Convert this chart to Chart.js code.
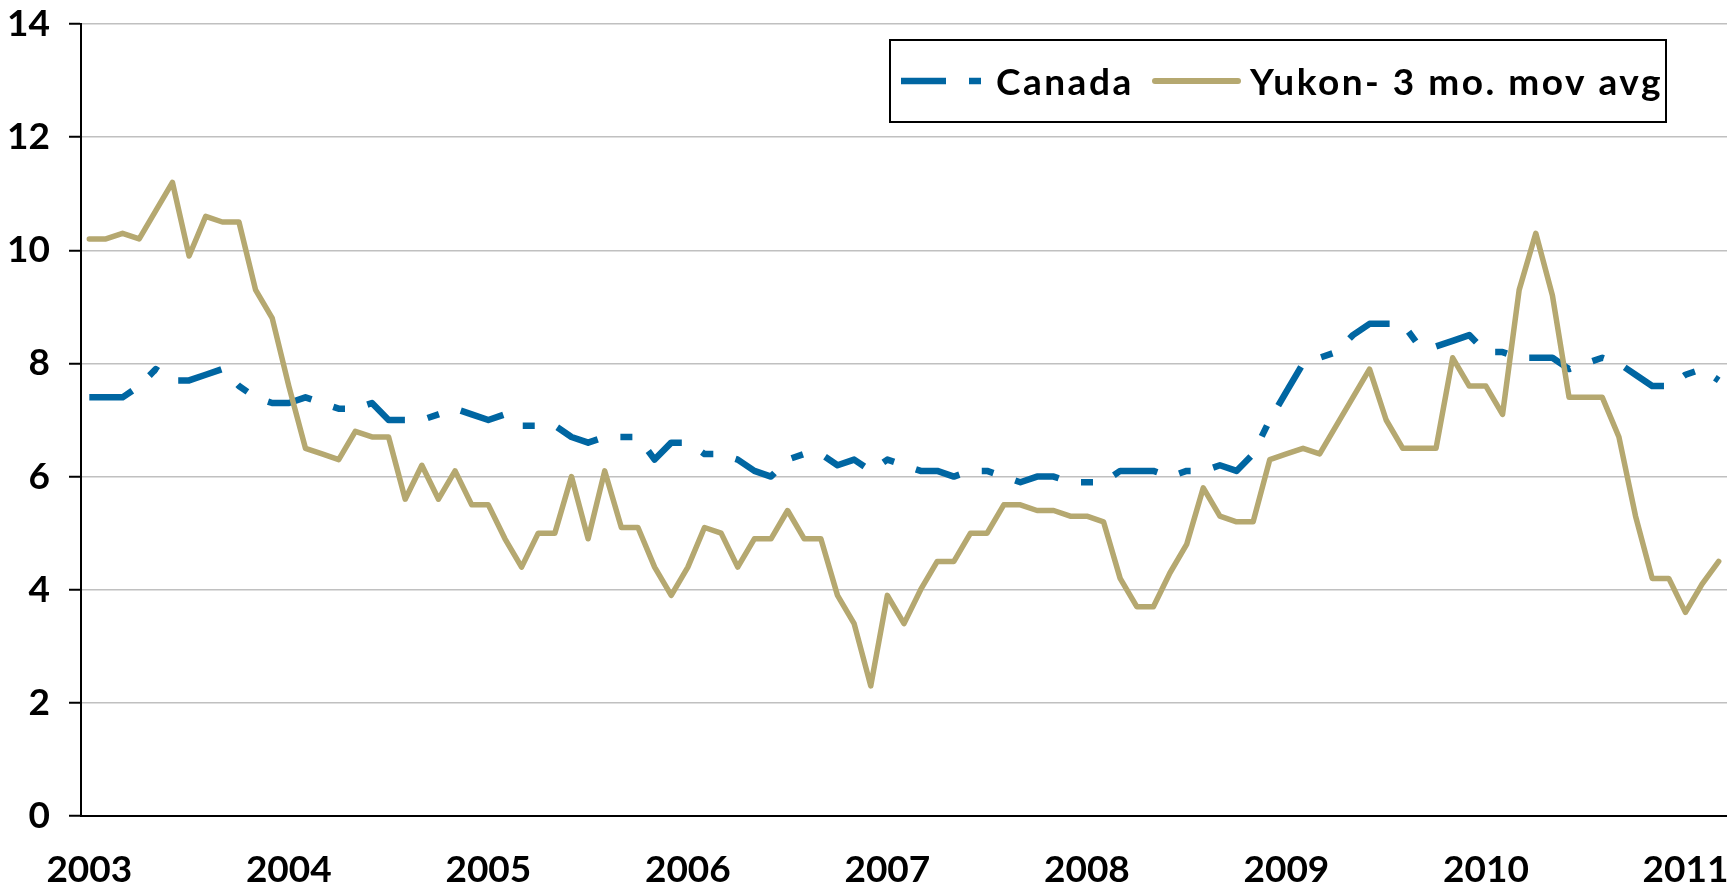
<!DOCTYPE html>
<html>
<head>
<meta charset="utf-8">
<script src="https://cdn.jsdelivr.net/npm/chart.js@4.4.1/dist/chart.umd.min.js"></script>
<style>
  html, body { margin: 0; padding: 0; background: #fff; }
  #wrap { width: 1727px; height: 892px; position: relative; }
</style>
</head>
<body>
<div id="wrap"><canvas id="chart"></canvas></div>
<script>
// Years shown under the axis, one tick per January
const years = ['2003', '2004', '2005', '2006', '2007', '2008', '2009', '2010', '2011'];
const monthCount = 99; // Jan 2003 .. Mar 2011

// Unemployment rate (%), monthly
const canada = [
  7.4, 7.4, 7.4, 7.6, 7.9, 7.7, 7.7, 7.8, 7.9, 7.6, 7.4, 7.3,
  7.3, 7.4, 7.3, 7.2, 7.2, 7.3, 7.0, 7.0, 7.0, 7.1, 7.2, 7.1,
  7.0, 7.1, 6.9, 6.9, 6.9, 6.7, 6.6, 6.7, 6.7, 6.7, 6.3, 6.6,
  6.6, 6.4, 6.4, 6.3, 6.1, 6.0, 6.3, 6.4, 6.4, 6.2, 6.3, 6.1,
  6.3, 6.2, 6.1, 6.1, 6.0, 6.1, 6.1, 6.0, 5.9, 6.0, 6.0, 5.9,
  5.9, 5.9, 6.1, 6.1, 6.1, 6.0, 6.1, 6.1, 6.2, 6.1, 6.4, 7.0,
  7.5, 8.0, 8.1, 8.2, 8.5, 8.7, 8.7, 8.7, 8.3, 8.3, 8.4, 8.5,
  8.2, 8.2, 8.1, 8.1, 8.1, 7.9, 8.0, 8.1, 8.0, 7.8, 7.6, 7.6,
  7.8, 7.9, 7.7
];
const yukon = [
  10.2, 10.2, 10.3, 10.2, 10.7, 11.2, 9.9, 10.6, 10.5, 10.5, 9.3, 8.8,
  7.6, 6.5, 6.4, 6.3, 6.8, 6.7, 6.7, 5.6, 6.2, 5.6, 6.1, 5.5,
  5.5, 4.9, 4.4, 5.0, 5.0, 6.0, 4.9, 6.1, 5.1, 5.1, 4.4, 3.9,
  4.4, 5.1, 5.0, 4.4, 4.9, 4.9, 5.4, 4.9, 4.9, 3.9, 3.4, 2.3,
  3.9, 3.4, 4.0, 4.5, 4.5, 5.0, 5.0, 5.5, 5.5, 5.4, 5.4, 5.3,
  5.3, 5.2, 4.2, 3.7, 3.7, 4.3, 4.8, 5.8, 5.3, 5.2, 5.2, 6.3,
  6.4, 6.5, 6.4, 6.9, 7.4, 7.9, 7.0, 6.5, 6.5, 6.5, 8.1, 7.6,
  7.6, 7.1, 9.3, 10.3, 9.2, 7.4, 7.4, 7.4, 6.7, 5.3, 4.2, 4.2,
  3.6, 4.1, 4.5
];

const FONT = 'Lato, "Liberation Sans", Arial, sans-serif';

// month labels built from the year list
let labels = [];
for (let i = 0; i < monthCount; i++) {
  labels.push(years[Math.floor(i / 12)] + '-' + String(i % 12 + 1).padStart(2, '0'));
}

// legend drawn inside the plot, with a black frame like the original
const legendBox = {
  id: 'legendBox',
  afterDraw(chart) {
    const ctx = chart.ctx;
    const area = chart.chartArea;
    const x = area.right - 837, y = area.top + 16, w = 776, h = 82;
    const cy = y + h / 2;
    const can = chart.data.datasets[0];
    const yuk = chart.data.datasets[1];

    ctx.save();
    ctx.fillStyle = '#fff';
    ctx.fillRect(x, y, w, h);
    ctx.lineWidth = 2;
    ctx.strokeStyle = '#000';
    ctx.strokeRect(x, y, w, h);

    // Canada sample
    ctx.strokeStyle = can.borderColor;
    ctx.lineWidth = can.borderWidth;
    ctx.lineCap = 'butt';
    ctx.setLineDash(can.borderDash);
    ctx.beginPath();
    ctx.moveTo(x + 11, cy);
    ctx.lineTo(x + 93, cy);
    ctx.stroke();

    // Yukon sample
    ctx.setLineDash([]);
    ctx.strokeStyle = yuk.borderColor;
    ctx.lineWidth = 6;
    ctx.lineCap = 'round';
    ctx.beginPath();
    ctx.moveTo(x + 265, cy);
    ctx.lineTo(x + 348, cy);
    ctx.stroke();

    ctx.fillStyle = '#000';
    ctx.font = 'bold 37px ' + FONT;
    ctx.letterSpacing = '2.5px';
    ctx.textBaseline = 'middle';
    ctx.textAlign = 'left';
    ctx.fillText(can.label, x + 106, cy + 2);
    ctx.fillText(yuk.label, x + 360, cy + 2);
    ctx.restore();
  }
};

let ctx = document.getElementById('chart').getContext('2d');
let chart = new Chart(ctx, {
  type: 'line',
  data: {
    labels: labels,
    datasets: [
      {
        label: 'Canada',
        data: canada,
        borderColor: '#0066A2',
        borderWidth: 6.5,
        borderDash: [45, 23, 12, 23],
        borderCapStyle: 'butt',
        borderJoinStyle: 'round',
        pointRadius: 0,
        tension: 0,
        fill: false,
        order: 1
      },
      {
        label: 'Yukon- 3 mo. mov avg',
        data: yukon,
        borderColor: '#B5A870',
        borderWidth: 5.5,
        borderCapStyle: 'round',
        borderJoinStyle: 'round',
        pointRadius: 0,
        tension: 0,
        fill: false,
        order: 0
      }
    ]
  },
  options: {
    responsive: true,
    maintainAspectRatio: false,
    animation: false,
    devicePixelRatio: 1,
    layout: { padding: { top: 24, right: 0, left: 0, bottom: 0 } },
    plugins: {
      legend: { display: false },
      tooltip: { enabled: false }
    },
    scales: {
      x: {
        type: 'category',
        offset: true,
        grid: { display: false, drawTicks: false },
        border: { display: true, color: '#000', width: 2 },
        ticks: {
          autoSkip: false,
          maxRotation: 0,
          padding: 32,
          color: '#000',
          font: { family: FONT, size: 37, weight: 'bold' },
          callback: function (value, index) {
            return index % 12 === 0 ? years[index / 12] : '';
          }
        },
        afterFit: function (scale) {
          scale.height = 76;
          scale.paddingLeft = 0;
          scale.paddingRight = 0;
        }
      },
      y: {
        min: 0,
        max: 14,
        grid: {
          color: '#C0C0C0',
          lineWidth: 1.5,
          drawTicks: true,
          tickLength: 12,
          tickColor: '#000',
          tickWidth: 2
        },
        border: { display: true, color: '#000', width: 2 },
        ticks: {
          stepSize: 2,
          padding: 19,
          color: '#000',
          font: { family: FONT, size: 37, weight: 'bold' }
        },
        afterFit: function (scale) {
          scale.width = 81;
          scale.paddingTop = 0;
          scale.paddingBottom = 0;
        }
      }
    }
  },
  plugins: [legendBox]
});
</script>
</body>
</html>
